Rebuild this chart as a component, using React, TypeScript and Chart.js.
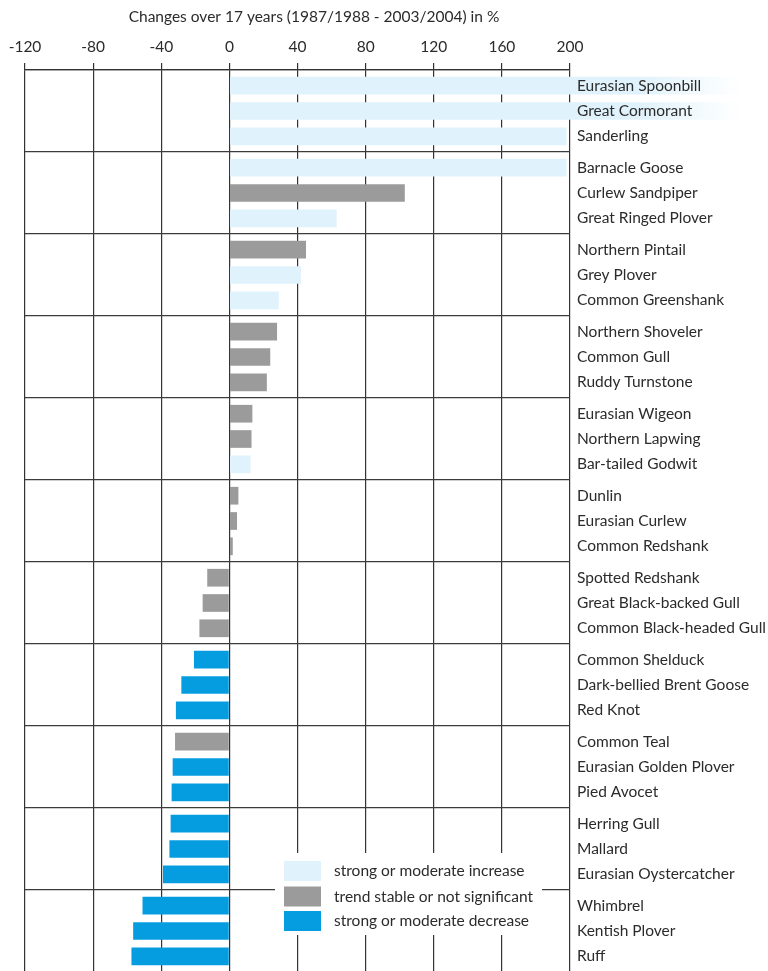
import React, { useEffect, useRef } from 'react';
import { Chart, registerables } from 'chart.js';

Chart.register(...registerables);

const axisTitle = 'Changes over 17 years (1987/1988 - 2003/2004) in %';

const species = [
  'Eurasian Spoonbill', 'Great Cormorant', 'Sanderling',
  'Barnacle Goose', 'Curlew Sandpiper', 'Great Ringed Plover',
  'Northern Pintail', 'Grey Plover', 'Common Greenshank',
  'Northern Shoveler', 'Common Gull', 'Ruddy Turnstone',
  'Eurasian Wigeon', 'Northern Lapwing', 'Bar-tailed Godwit',
  'Dunlin', 'Eurasian Curlew', 'Common Redshank',
  'Spotted Redshank', 'Great Black-backed Gull', 'Common Black-headed Gull',
  'Common Shelduck', 'Dark-bellied Brent Goose', 'Red Knot',
  'Common Teal', 'Eurasian Golden Plover', 'Pied Avocet',
  'Herring Gull', 'Mallard', 'Eurasian Oystercatcher',
  'Whimbrel', 'Kentish Plover', 'Ruff',
];

// % change (values beyond 200 run off the scale)
const changes = [
  300, 300, 198,
  198, 103, 63,
  45, 42, 29,
  28, 24, 22,
  13.5, 13, 12.5,
  5.3, 4.5, 2,
  -13, -15.7, -17.6,
  -20.8, -28.2, -31.4,
  -31.9, -33.3, -33.9,
  -34.5, -35.2, -39,
  -51, -56.5, -57.5,
];

// inc = strong or moderate increase, st = stable / not significant, dec = decrease
const trends = [
  'inc', 'inc', 'inc',
  'inc', 'st', 'inc',
  'st', 'inc', 'inc',
  'st', 'st', 'st',
  'st', 'st', 'inc',
  'st', 'st', 'st',
  'st', 'st', 'st',
  'dec', 'dec', 'dec',
  'st', 'dec', 'dec',
  'dec', 'dec', 'dec',
  'dec', 'dec', 'dec',
];

const xTicks = [-120, -80, -40, 0, 40, 80, 120, 160, 200];

const legendLabels = [
  'strong or moderate increase',
  'trend stable or not significant',
  'strong or moderate decrease',
];
const legendKeys = ['inc', 'st', 'dec'];

const COLORS: Record<string, string> = {
  inc: '#e0f2fb',
  st: '#9b9b9b',
  dec: '#069de0',
};

const FONT = 'Lato';
const FS = 15.5;
const TEXT = '#2b2b2b';
const GROUP = 3;

export default function App() {
  const ref = useRef<HTMLCanvasElement | null>(null);

  useEffect(() => {
    if (!ref.current) return;
    const nGroups = Math.ceil(species.length / GROUP);
    const labels: string[][] = [];
    for (let g = 0; g < nGroups; g++) labels.push(species.slice(g * GROUP, g * GROUP + GROUP));

    const fillFor = (key: string, chart: any) => {
      if (key !== 'inc') return COLORS[key];
      const area = chart.chartArea;
      const xs = chart.scales && chart.scales.x;
      if (!area || !xs) return COLORS.inc;
      const x0 = xs.getPixelForValue(0);
      const x1 = xs.getPixelForValue(300);
      const grad = chart.ctx.createLinearGradient(x0, 0, x1, 0);
      grad.addColorStop(0, COLORS.inc);
      grad.addColorStop(0.8, COLORS.inc);
      grad.addColorStop(1, 'rgba(224,242,251,0)');
      return grad;
    };

    const datasets = [0, 1, 2].map((k) => ({
      label: 'row' + k,
      data: labels.map((_, g) => changes[g * GROUP + k]),
      backgroundColor: (ctx: any) => fillFor(trends[ctx.dataIndex * GROUP + k], ctx.chart),
      borderWidth: 0,
      categoryPercentage: 0.925,
      barPercentage: 0.7,
      clip: false as any,
    }));

    const overlay = {
      id: 'overlay',
      afterDraw(chart: any) {
        const { ctx } = chart;
        ctx.save();
        // title
        ctx.fillStyle = TEXT;
        ctx.font = `${FS}px ${FONT}`;
        ctx.textAlign = 'center';
        ctx.textBaseline = 'middle';
        ctx.fillText(axisTitle, 314, 17);
        // legend
        ctx.fillStyle = '#ffffff';
        ctx.fillRect(275, 853, 267, 82);
        ctx.textAlign = 'left';
        const ys = [861, 886.5, 911];
        legendKeys.forEach((k, i) => {
          ctx.fillStyle = COLORS[k];
          ctx.fillRect(284, ys[i], 37, 20);
          ctx.fillStyle = TEXT;
          ctx.fillText(legendLabels[i], 334, ys[i] + 10);
        });
        ctx.restore();
      },
    };

    const chart = new Chart(ref.current, {
      type: 'bar',
      data: { labels, datasets },
      options: {
        indexAxis: 'y',
        responsive: false,
        animation: false,
        devicePixelRatio: 1,
        layout: { padding: { left: 25, right: 0, top: 0, bottom: 8 } },
        plugins: { legend: { display: false }, tooltip: { enabled: false }, title: { display: false } },
        scales: {
          x: {
            type: 'linear',
            position: 'top',
            min: -120,
            max: 200,
            afterBuildTicks: (s: any) => { s.ticks = xTicks.map((v) => ({ value: v })); },
            afterFit: (s: any) => { s.height = 70; },
            grid: { color: '#333333', lineWidth: 1.2, tickLength: 7, drawTicks: true },
            border: { display: true, color: '#333333', width: 1.2 },
            ticks: { padding: 7, color: TEXT, maxRotation: 0, font: { family: FONT, size: FS } },
          },
          y: {
            type: 'category',
            position: 'right',
            offset: true,
            afterFit: (s: any) => { s.width = 198; s.paddingTop = 0; s.paddingBottom = 0; },
            grid: { offset: true, color: '#3c3c3c', lineWidth: 1.3, drawTicks: false },
            border: { display: false },
            ticks: {
              z: 1,
              autoSkip: false,
              crossAlign: 'near',
              padding: 7,
              color: TEXT,
              font: { family: FONT, size: FS, lineHeight: '25.3px' as any },
            },
          },
        } as any,
      },
      plugins: [overlay],
    });
    return () => chart.destroy();
  }, []);

  return (
    <div style={{ position: 'absolute', left: 0, top: 0, width: 768, height: 971, overflow: 'hidden', background: '#fff' }}>
      <canvas ref={ref} width={768} height={980} style={{ display: 'block' }} />
    </div>
  );
}
